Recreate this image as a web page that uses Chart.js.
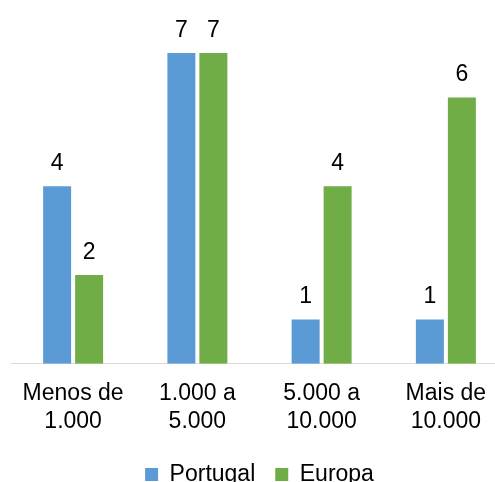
<!DOCTYPE html>
<html>
<head>
<meta charset="utf-8">
<script src="https://cdn.jsdelivr.net/npm/chart.js@4.4.0/dist/chart.umd.min.js"></script>
<style>
  html, body { margin: 0; padding: 0; overflow: hidden; background: #fff; }
  #wrap { width: 526px; height: 496px; }
</style>
</head>
<body>
<div id="wrap"><canvas id="myChart"></canvas></div>
<script>
// Chart data
var categories = [['Menos de', '1.000'], ['1.000 a', '5.000'], ['5.000 a', '10.000'], ['Mais de', '10.000']];
var portugal = [4, 7, 1, 1];
var europa = [2, 7, 4, 6];

// Draw the value above each bar
var valueLabels = {
  id: 'valueLabels',
  afterDatasetsDraw: function(chart) {
    var ctx = chart.ctx;
    ctx.save();
    ctx.font = '23px "Liberation Sans", Arial, sans-serif';
    ctx.fillStyle = '#000';
    ctx.textAlign = 'center';
    ctx.textBaseline = 'alphabetic';
    chart.data.datasets.forEach(function(ds, i) {
      chart.getDatasetMeta(i).data.forEach(function(bar, j) {
        ctx.fillText(ds.data[j], bar.x, bar.y - 16);
      });
    });
    ctx.restore();
  }
};

var ctx = document.getElementById('myChart').getContext('2d');
var myChart = new Chart(ctx, {
  type: 'bar',
  data: {
    labels: categories,
    datasets: [{
      label: 'Portugal',
      data: portugal,
      backgroundColor: '#5B9BD5',
      barPercentage: 0.875,
      categoryPercentage: 0.515
    }, {
      label: 'Europa',
      data: europa,
      backgroundColor: '#70AD47',
      barPercentage: 0.875,
      categoryPercentage: 0.515
    }]
  },
  options: {
    responsive: true,
    maintainAspectRatio: false,
    animation: false,
    layout: {
      padding: { top: 53, left: 11, right: 18, bottom: 0 }
    },
    scales: {
      x: {
        grid: { display: false },
        border: { display: true, color: '#D9D9D9', width: 1 },
        ticks: {
          color: '#000',
          font: { family: '"Liberation Sans", Arial, sans-serif', size: 23, lineHeight: 1.2 },
          padding: 8,
          maxRotation: 0
        }
      },
      y: {
        display: false,
        min: 0,
        max: 7
      }
    },
    plugins: {
      legend: {
        position: 'bottom',
        labels: {
          color: '#000',
          boxWidth: 13,
          boxHeight: 13,
          padding: 20,
          font: { family: '"Liberation Sans", Arial, sans-serif', size: 23 }
        }
      },
      tooltip: { enabled: false }
    }
  },
  plugins: [valueLabels]
});
</script>
</body>
</html>
